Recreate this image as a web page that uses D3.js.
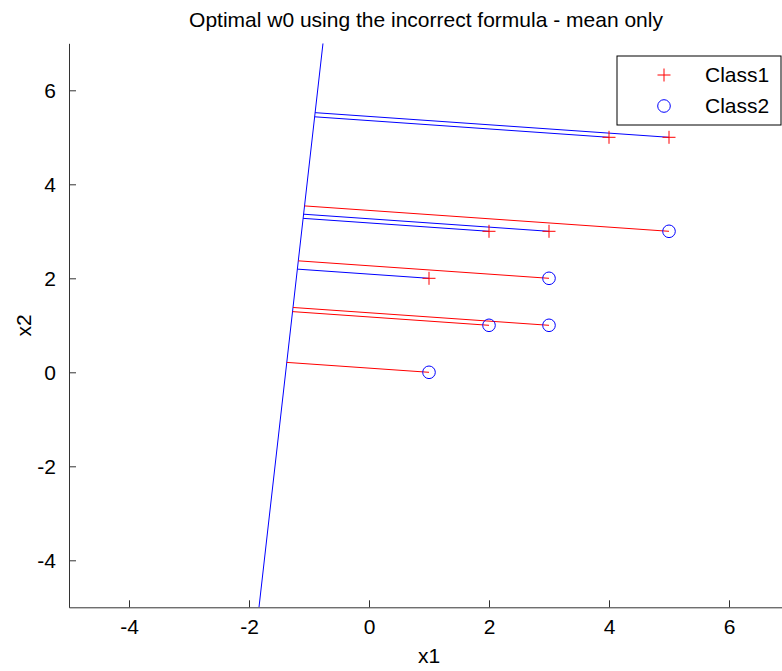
<!DOCTYPE html>
<html>
<head>
<meta charset="utf-8">
<script src="https://cdn.jsdelivr.net/npm/d3@7"></script>
<style>
  html, body { margin: 0; padding: 0; background: #fff; }
  svg { display: block; font-family: "Liberation Sans", Arial, Helvetica, sans-serif; }
</style>
</head>
<body>
<svg id="chart" width="782" height="671"></svg>
<script>
// Class samples
const class1X = [4, 5, 2, 3, 1];
const class1Y = [5, 5, 3, 3, 2];
const class2X = [5, 3, 2, 3, 1];
const class2Y = [3, 2, 1, 1, 0];

// Boundary line: w[0]*x1 + w[1]*x2 + w0 = 0
const boundaryW = [1, -0.0889];
const boundaryW0 = 1.389;

// Axis extents and ticks
const xDomain = [-5, 7];
const yDomain = [-5, 7];
const xTicks = [-4, -2, 0, 2, 4, 6];
const yTicks = [-4, -2, 0, 2, 4, 6];

const titleText = "Optimal w0 using the incorrect formula - mean only";
const legendLabels = ["Class1", "Class2"];

const plot = { left: 69, right: 789, top: 43.3, bottom: 607.3 };
const svg = d3.select("#chart");

const x = d3.scaleLinear().domain(xDomain).range([plot.left, plot.right]);
const y = d3.scaleLinear().domain(yDomain).range([plot.bottom, plot.top]);

svg.append("defs").append("clipPath").attr("id", "plotClip")
  .append("rect")
  .attr("x", plot.left).attr("y", plot.top)
  .attr("width", plot.right - plot.left).attr("height", plot.bottom - plot.top);

const fontSize = 21;
const axisColor = "#333";
const plainNumber = d => String(d);

// Axes (left and bottom only, ticks pointing inward)
const xAxis = d3.axisBottom(x).tickValues(xTicks).tickFormat(plainNumber)
  .tickSizeInner(-7).tickSizeOuter(0).tickPadding(12);
const yAxis = d3.axisLeft(y).tickValues(yTicks).tickFormat(plainNumber)
  .tickSizeInner(-7).tickSizeOuter(0).tickPadding(13);

const gx = svg.append("g").attr("transform", `translate(0,${plot.bottom})`).call(xAxis);
const gy = svg.append("g").attr("transform", `translate(${plot.left},0)`).call(yAxis);
[gx, gy].forEach(g => {
  g.select(".domain").attr("stroke", axisColor).attr("stroke-width", 1);
  g.selectAll(".tick line").attr("stroke", axisColor);
  g.selectAll(".tick text").attr("fill", "#000").attr("font-size", fontSize)
    .attr("font-family", "'Liberation Sans', Arial, sans-serif");
});
gy.selectAll(".tick text").attr("dy", "0.34em");

// Boundary segment across the y range
const boundaryX = v => -(boundaryW[1] * v + boundaryW0) / boundaryW[0];
const gPlot = svg.append("g").attr("clip-path", "url(#plotClip)");
gPlot.append("line")
  .attr("x1", x(boundaryX(yDomain[0]))).attr("y1", y(yDomain[0]))
  .attr("x2", x(boundaryX(yDomain[1]))).attr("y2", y(yDomain[1]))
  .attr("stroke", "#0000ff").attr("stroke-width", 1);

// Perpendicular foot of a point on the boundary
function foot(px, py) {
  const n2 = boundaryW[0] ** 2 + boundaryW[1] ** 2;
  const t = (boundaryW[0] * px + boundaryW[1] * py + boundaryW0) / n2;
  return [px - t * boundaryW[0], py - t * boundaryW[1]];
}

const class1 = class1X.map((v, i) => [v, class1Y[i]]);
const class2 = class2X.map((v, i) => [v, class2Y[i]]);

// Projection segments: class 1 in blue, class 2 in red
gPlot.selectAll("line.proj1").data(class1).join("line")
  .attr("class", "proj1")
  .attr("x1", d => x(d[0])).attr("y1", d => y(d[1]))
  .attr("x2", d => x(foot(d[0], d[1])[0])).attr("y2", d => y(foot(d[0], d[1])[1]))
  .attr("stroke", "#0000ff").attr("stroke-width", 1);
gPlot.selectAll("line.proj2").data(class2).join("line")
  .attr("class", "proj2")
  .attr("x1", d => x(d[0])).attr("y1", d => y(d[1]))
  .attr("x2", d => x(foot(d[0], d[1])[0])).attr("y2", d => y(foot(d[0], d[1])[1]))
  .attr("stroke", "#ff0000").attr("stroke-width", 1);

// Markers
const plusPath = s => `M${-s},0H${s}M0,${-s}V${s}`;
gPlot.selectAll("path.m1").data(class1).join("path")
  .attr("class", "m1")
  .attr("transform", d => `translate(${x(d[0])},${y(d[1])})`)
  .attr("d", plusPath(6.5))
  .attr("stroke", "#ff0000").attr("stroke-width", 1).attr("fill", "none");
gPlot.selectAll("circle.m2").data(class2).join("circle")
  .attr("class", "m2")
  .attr("cx", d => x(d[0])).attr("cy", d => y(d[1])).attr("r", 6.3)
  .attr("stroke", "#0000ff").attr("stroke-width", 1).attr("fill", "none");

// Title and axis labels
svg.append("text").attr("x", (plot.left + plot.right) / 2 - 3).attr("y", 27)
  .attr("text-anchor", "middle").attr("font-size", fontSize).text(titleText);
svg.append("text").attr("x", (plot.left + plot.right) / 2).attr("y", 663)
  .attr("text-anchor", "middle").attr("font-size", fontSize).text("x1");
svg.append("text")
  .attr("transform", `translate(31,${(plot.top + plot.bottom) / 2}) rotate(-90)`)
  .attr("text-anchor", "middle").attr("font-size", fontSize).text("x2");

// Legend
const legend = svg.append("g");
legend.append("rect").attr("x", 617).attr("y", 56).attr("width", 164).attr("height", 69)
  .attr("fill", "#fff").attr("stroke", "#000").attr("stroke-width", 1);
legend.append("path").attr("transform", "translate(664,75)").attr("d", plusPath(6.5))
  .attr("stroke", "#ff0000").attr("fill", "none");
legend.append("circle").attr("cx", 664).attr("cy", 106).attr("r", 6.3)
  .attr("stroke", "#0000ff").attr("fill", "none");
legend.selectAll("text.lg").data(legendLabels).join("text")
  .attr("class", "lg")
  .attr("x", 705).attr("y", (d, i) => 75 + i * 31).attr("dy", "0.35em")
  .attr("font-size", fontSize).text(d => d);
</script>
</body>
</html>
